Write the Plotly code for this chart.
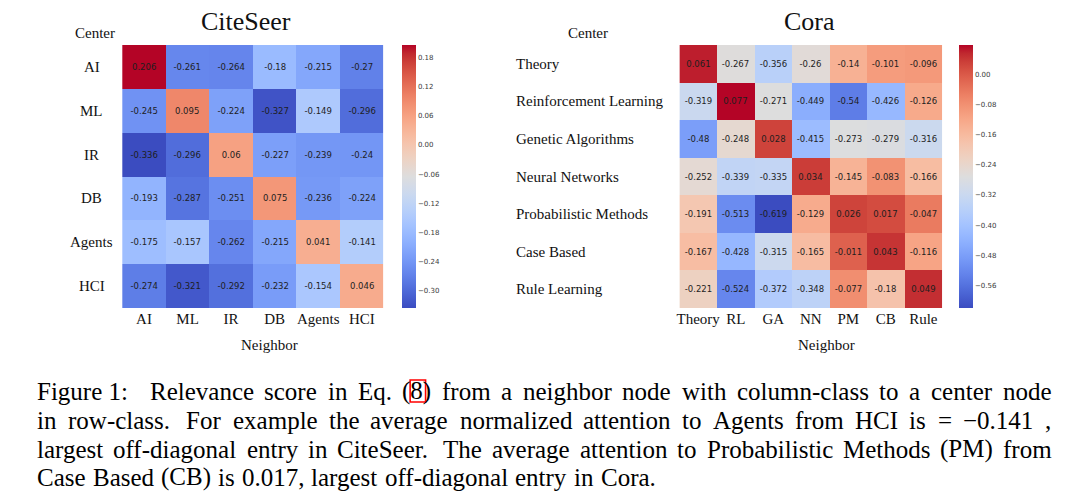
import plotly.graph_objects as go

# ---------------- data ----------------
cs_rows = ["AI", "ML", "IR", "DB", "Agents", "HCI"]
cs_cols = ["AI", "ML", "IR", "DB", "Agents", "HCI"]
cs_vals = [
    [0.206, -0.261, -0.264, -0.18, -0.215, -0.27],
    [-0.245, 0.095, -0.224, -0.327, -0.149, -0.296],
    [-0.336, -0.296, 0.06, -0.227, -0.239, -0.24],
    [-0.193, -0.287, -0.251, 0.075, -0.236, -0.224],
    [-0.175, -0.157, -0.262, -0.215, 0.041, -0.141],
    [-0.274, -0.321, -0.292, -0.232, -0.154, 0.046],
]
cs_ticks = [-0.30, -0.24, -0.18, -0.12, -0.06, 0.00, 0.06, 0.12, 0.18]

cora_rows = ["Theory", "Reinforcement Learning", "Genetic Algorithms", "Neural Networks",
             "Probabilistic Methods", "Case Based", "Rule Learning"]
cora_cols = ["Theory", "RL", "GA", "NN", "PM", "CB", "Rule"]
cora_vals = [
    [0.061, -0.267, -0.356, -0.26, -0.14, -0.101, -0.096],
    [-0.319, 0.077, -0.271, -0.449, -0.54, -0.426, -0.126],
    [-0.48, -0.248, 0.028, -0.415, -0.273, -0.279, -0.316],
    [-0.252, -0.339, -0.335, 0.034, -0.145, -0.083, -0.166],
    [-0.191, -0.513, -0.619, -0.129, 0.026, 0.017, -0.047],
    [-0.167, -0.428, -0.315, -0.165, -0.011, 0.043, -0.116],
    [-0.221, -0.524, -0.372, -0.348, -0.077, -0.18, 0.049],
]
cora_ticks = [-0.56, -0.48, -0.40, -0.32, -0.24, -0.16, -0.08, 0.00]

caption_lines = [
    "Figure 1: Relevance score in Eq. (8) from a neighbor node with column-class to a center node",
    "in row-class. For example the average normalized attention to Agents from HCI is = \u22120.141 ,",
    "largest off-diagonal entry in CiteSeer. The average attention to Probabilistic Methods (PM) from",
    "Case Based (CB) is 0.017, largest off-diagonal entry in Cora.",
]

# ---------------- styles ----------------
W, H = 1080, 494
SERIF = "Liberation Serif"
SANS = "DejaVu Sans"

coolwarm_rgb = [
    (59, 76, 192), (68, 90, 204), (77, 104, 215), (87, 117, 225), (98, 130, 234),
    (108, 142, 241), (119, 154, 247), (130, 165, 251), (141, 176, 254), (152, 185, 255),
    (163, 194, 255), (174, 201, 253), (184, 208, 249), (194, 213, 244), (204, 217, 238),
    (213, 219, 230), (221, 221, 221), (229, 216, 209), (236, 211, 197), (241, 204, 185),
    (245, 196, 173), (247, 187, 160), (247, 177, 148), (247, 166, 135), (244, 154, 123),
    (241, 141, 111), (236, 127, 99), (229, 112, 88), (222, 96, 77), (213, 80, 66),
    (203, 62, 56), (192, 40, 47), (180, 4, 38),
]
n = len(coolwarm_rgb) - 1
coolwarm = [[i / n, "rgb(%d,%d,%d)" % c] for i, c in enumerate(coolwarm_rgb)]


def px(x):
    return x / W


def py(y):
    return 1 - y / H


def fmt_tick(v):
    s = "%.2f" % abs(v)
    return ("\u2212" + s) if v < -1e-9 else s


top, bot = 45, 308
cb_y = py((top + bot) / 2)

fig = go.Figure()


def add_heat(z, rows, cols, xa, ya, cbx, ticks):
    flat = [v for r in z for v in r]
    fig.add_trace(go.Heatmap(
        z=z, x=cols, y=rows, xaxis=xa, yaxis=ya,
        colorscale=coolwarm, zmin=min(flat), zmax=max(flat),
        text=[[str(v) for v in r] for r in z], texttemplate="%{text}",
        textfont=dict(family=SANS, size=8.5, color="#1e1e1e"),
        hoverinfo="skip",
        colorbar=dict(
            x=px(cbx), xanchor="left", xref="paper", xpad=0, ypad=0,
            y=cb_y, yanchor="middle", len=bot - top, lenmode="pixels",
            thickness=14, outlinewidth=0,
            tickvals=ticks, ticktext=[fmt_tick(t) for t in ticks],
            ticks="", tickfont=dict(family=SANS, size=7, color="#3a3a3a"),
        ),
    ))


add_heat(cs_vals, cs_rows, cs_cols, "x", "y", 400, cs_ticks)
add_heat(cora_vals, cora_rows, cora_cols, "x2", "y2", 959, cora_ticks)

axis_common = dict(showgrid=False, zeroline=False, showline=False, ticks="")
xfont = dict(family=SERIF, size=15, color="#111")
fig.update_layout(
    width=W, height=H, margin=dict(l=0, r=0, t=0, b=0),
    paper_bgcolor="white", plot_bgcolor="white",
    xaxis=dict(domain=[px(119.5), px(381.7)], anchor="y", tickfont=xfont, **axis_common),
    yaxis=dict(domain=[py(bot), py(top)], anchor="x", autorange="reversed",
               showticklabels=False, **axis_common),
    xaxis2=dict(domain=[px(678.3), px(941.7)], anchor="y2", tickfont=xfont, **axis_common),
    yaxis2=dict(domain=[py(bot), py(top)], anchor="x2", autorange="reversed",
                showticklabels=False, **axis_common),
)

ann = []
lab = dict(family=SERIF, size=15, color="#111")
for r in cs_rows:
    ann.append(dict(x=px(89), xref="paper", y=r, yref="y", text=r, showarrow=False,
                    xanchor="center", yanchor="middle", font=lab))
for r in cora_rows:
    ann.append(dict(x=px(512), xref="paper", y=r, yref="y2", text=r, showarrow=False,
                    xanchor="left", yanchor="middle", font=lab))
for (x, y, t, s) in [(92, 33, "Center", 15), (587, 33, "Center", 15),
                     (267, 345, "Neighbor", 15), (826, 345, "Neighbor", 15),
                     (244, 22, "CiteSeer", 26), (809, 22, "Cora", 26)]:
    ann.append(dict(x=px(x), y=py(y), xref="paper", yref="paper", text=t, showarrow=False,
                    xanchor="center", yanchor="middle",
                    font=dict(family=SERIF, size=s, color="#111")))

# ---- justified caption (Times metrics) ----
TW = {' ': 250, '!': 333, '(': 333, ')': 333, ',': 250, '-': 333, '.': 250, ':': 278,
      '=': 564, '\u2212': 564,
      'A': 722, 'B': 667, 'C': 667, 'D': 722, 'E': 611, 'F': 556, 'G': 722, 'H': 722,
      'I': 333, 'J': 389, 'K': 722, 'L': 611, 'M': 889, 'N': 722, 'O': 722, 'P': 556,
      'Q': 722, 'R': 667, 'S': 556, 'T': 611, 'U': 722, 'V': 722, 'W': 944, 'X': 722,
      'Y': 722, 'Z': 611,
      'a': 444, 'b': 500, 'c': 444, 'd': 500, 'e': 444, 'f': 333, 'g': 500, 'h': 500,
      'i': 278, 'j': 278, 'k': 500, 'l': 278, 'm': 778, 'n': 500, 'o': 500, 'p': 500,
      'q': 500, 'r': 333, 's': 389, 't': 278, 'u': 500, 'v': 500, 'w': 722, 'x': 500,
      'y': 500, 'z': 444}
FS = 25
PAD = 3  # annotation inner padding
L, R = 35, 1052
line_y = [391, 420, 449, 477]


def tw(s):
    return sum(TW.get(c, 500) for c in s) * FS / 1000.0


shapes = []
for li, line in enumerate(caption_lines):
    words = line.split(" ")
    if li == 0:
        words = [words[0] + " " + words[1]] + words[2:]
    weights = []
    for w in words[:-1]:
        if w.endswith(":"):
            weights.append(3.5)
        elif w.endswith(".") and w != "Eq.":
            weights.append(2.0)
        else:
            weights.append(1.0)
    base = 0.25 * FS
    wsum = sum(tw(w) for w in words)
    if li < len(caption_lines) - 1:
        stretch = (R - L - wsum - base * len(weights)) / sum(weights)
    else:
        stretch = 1.0
    x = L
    for i, w in enumerate(words):
        ann.append(dict(x=px(x - PAD), y=py(line_y[li]), xref="paper", yref="paper", text=w,
                        showarrow=False, xanchor="left", yanchor="middle",
                        font=dict(family=SERIF, size=FS, color="#000")))
        if w == "(8)":
            x0 = x + tw("(") - 1.5
            x1 = x + tw("(8") + 1.5
            shapes.append(dict(type="rect", xref="paper", yref="paper",
                               x0=px(x0), x1=px(x1), y0=py(line_y[li] + 11),
                               y1=py(line_y[li] - 11), line=dict(color="#ff0000", width=1.6)))
        x += tw(w)
        if i < len(weights):
            x += base + stretch * weights[i]

fig.update_layout(annotations=ann, shapes=shapes)
fig.write_html("out.html", config={"displayModeBar": False},
               post_script="document.body.style.margin='0';document.body.style.padding='0';")
